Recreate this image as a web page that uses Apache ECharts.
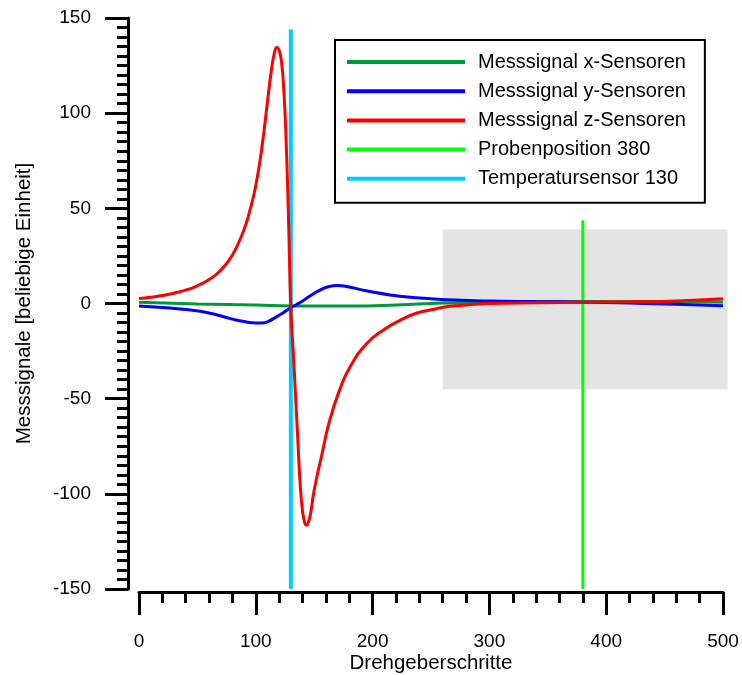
<!DOCTYPE html>
<html>
<head>
<meta charset="utf-8">
<script src="https://cdn.jsdelivr.net/npm/echarts@6/dist/echarts.min.js"></script>
<style>html,body{margin:0;padding:0;background:#fff}#c{width:742px;height:675px}</style>
</head>
<body>
<div id="c"></div>
<script>
// ---- data ----
const seriesNames = ['Messsignal x-Sensoren','Messsignal y-Sensoren','Messsignal z-Sensoren','Probenposition 380','Temperatursensor 130'];
const xSensX = [0,50,100,130,180,220,260,300,380,440,500];
const xSensY = [0.7,-0.2,-0.8,-1.3,-1.3,-0.8,0.2,0.6,1.1,1.0,0.8];
const ySensX = [0,20,40,60,80,90,100,105,110,118,125,130,138,146,155,162,170,180,190,200,215,230,250,270,300,340,380,420,460,500];
const ySensY = [-1.3,-2.1,-3.2,-5,-8.2,-9.5,-10.2,-10.2,-9.6,-6.9,-4.2,-2.2,0.5,3.8,7,8.8,9.5,8.7,7.3,6,4.5,3.4,2.5,1.8,1.3,1,0.7,0.2,-0.4,-1.2];
const zSensX = [0,10,20,30,40,50,60,70,80,90,95,100,105,110,113,116,118,120,122,124,126,128,130,132,134,136,138,140,142,143.5,145,147,150,156,163,172,181,195,209,223,238,253,266,280,300,340,380,420,460,500];
const zSensY = [2.6,3.3,4.2,5.4,7,9.3,12.6,17.5,25.5,39,49,62,81,106,121,132,134.5,133,127,112,85,45,-3,-25,-48,-72,-95,-109,-115.5,-116.5,-115,-110,-98,-81,-62,-45,-33,-21,-14,-9,-5,-3,-1.5,-0.8,0,0.4,0.7,0.9,1.3,2.5];
const probeX = 380, probeYRange = [-150, 43.7];
const tempX = 130, tempYRange = [-150, 144];
const greyArea = [[260, 39], [504, -45]];
const xTicks = {min: 0, max: 500, interval: 100};
const yTicks = {min: -150, max: 150, interval: 50};
const xTitle = 'Drehgeberschritte';
const yTitle = 'Messsignale [beliebige Einheit]';

const pairs = (xs, ys) => xs.map((x, i) => [x, ys[i]]);
const colors = ['#00993a', '#0000ff', '#ff0000', '#00ff00', '#00ccff'];
const FONT = '"Liberation Sans", Arial, sans-serif';

const chart = echarts.init(document.getElementById('c'), null, {renderer: 'canvas'});
const axisCommon = {
  axisLine: {show: true, onZero: false, lineStyle: {color: '#000', width: 3}},
  axisTick: {show: true, inside: false, length: 23, lineStyle: {color: '#000', width: 3}},
  minorTick: {show: true, length: 11, lineStyle: {color: '#000', width: 3}},
  splitLine: {show: false},
  minorSplitLine: {show: false},
  nameMoveOverlap: false,
  nameTextStyle: {color: '#000', fontSize: 20.5, fontFamily: FONT}
};
const lineCommon = {type: 'line', smooth: 0.5, showSymbol: false};
chart.setOption({
  animation: false,
  backgroundColor: '#fff',
  color: colors,
  grid: {left: 139, right: 19, top: 18, bottom: 86, containLabel: false, outerBoundsMode: 'none'},
  xAxis: Object.assign({}, axisCommon, {
    type: 'value', min: xTicks.min, max: xTicks.max, interval: xTicks.interval,
    offset: 3,
    minorTick: Object.assign({}, axisCommon.minorTick, {splitNumber: 5}),
    axisLabel: {color: '#000', fontSize: 19, fontFamily: FONT, margin: 40},
    name: xTitle, nameLocation: 'middle', nameGap: 61
  }),
  yAxis: Object.assign({}, axisCommon, {
    type: 'value', min: yTicks.min, max: yTicks.max, interval: yTicks.interval,
    offset: 11,
    minorTick: Object.assign({}, axisCommon.minorTick, {splitNumber: 10}),
    axisLabel: {color: '#000', fontSize: 19, fontFamily: FONT, margin: 37},
    name: yTitle, nameLocation: 'middle', nameGap: 93, nameRotate: 90
  }),
  legend: {
    orient: 'vertical', left: 335, top: 40,
    padding: [12, 19, 14, 12],
    borderColor: '#000', borderWidth: 2, backgroundColor: '#fff',
    itemWidth: 118, itemHeight: 4, itemGap: 9.2, icon: 'rect',
    textStyle: {color: '#000', fontSize: 20, fontFamily: FONT, padding: [0, 0, 0, 8]},
    data: seriesNames
  },
  series: [
    Object.assign({}, lineCommon, {name: seriesNames[0], data: pairs(xSensX, xSensY), lineStyle: {width: 3}, z: 4}),
    Object.assign({}, lineCommon, {name: seriesNames[1], data: pairs(ySensX, ySensY), lineStyle: {width: 3}, z: 4}),
    Object.assign({}, lineCommon, {name: seriesNames[2], data: pairs(zSensX, zSensY), lineStyle: {width: 3}, z: 5}),
    {name: seriesNames[3], type: 'line', data: probeYRange.map(v => [probeX, v]), showSymbol: false, lineStyle: {width: 3}, z: 3},
    {name: seriesNames[4], type: 'line', data: tempYRange.map(v => [tempX, v]), showSymbol: false, lineStyle: {width: 4}, z: 3},
    {type: 'custom', clip: false, silent: true, z: 1, data: [[greyArea[0][0], greyArea[0][1], greyArea[1][0], greyArea[1][1]]],
      encode: {x: [0, 2], y: [1, 3]},
      renderItem: function (params, api) {
        const p0 = api.coord([api.value(0), api.value(1)]);
        const p1 = api.coord([api.value(2), api.value(3)]);
        return {type: 'rect', shape: {x: p0[0], y: p0[1], width: p1[0] - p0[0], height: p1[1] - p0[1]}, style: {fill: '#e4e4e4'}};
      }}
  ]
});
</script>
</body>
</html>
